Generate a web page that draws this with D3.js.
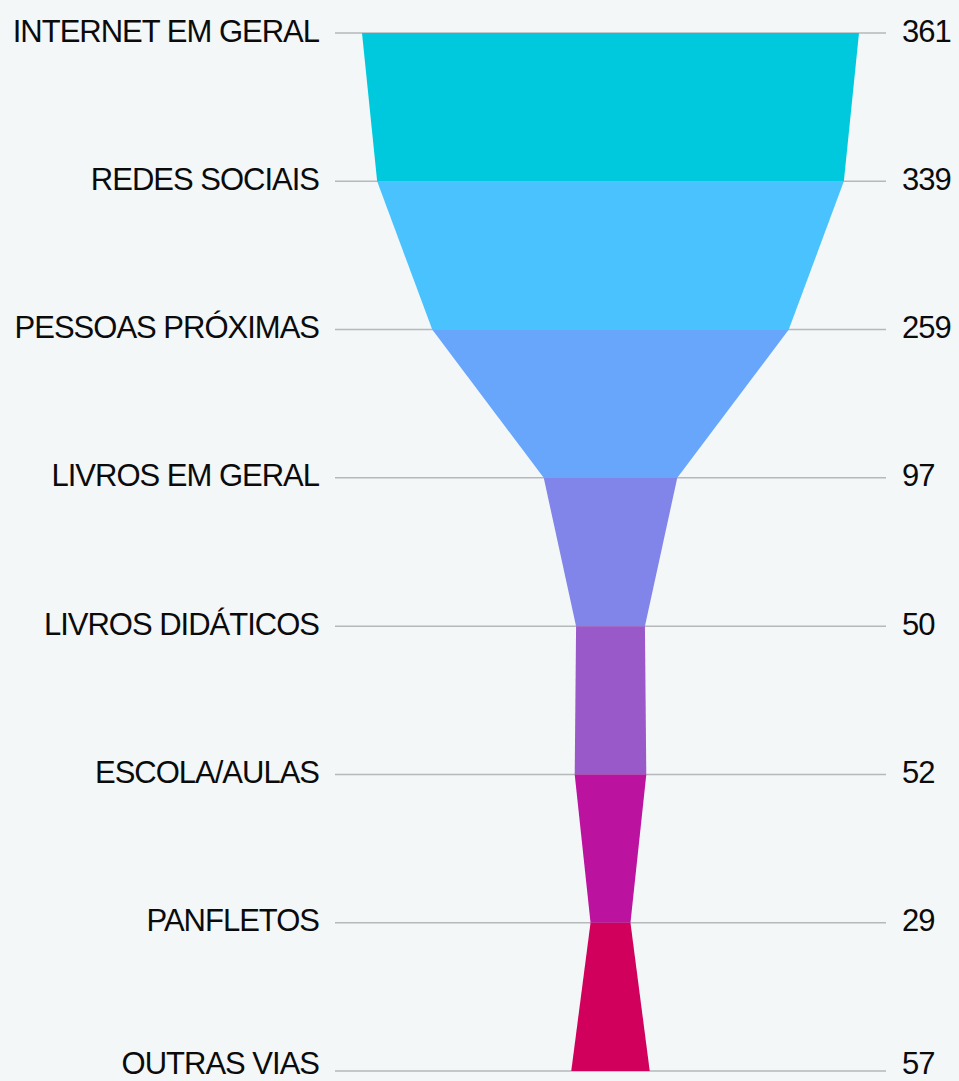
<!DOCTYPE html>
<html>
<head>
<meta charset="utf-8">
<script src="https://cdn.jsdelivr.net/npm/d3@7"></script>
<style>
  html, body { margin: 0; padding: 0; background: #f3f7f8; }
  svg { display: block; }
  .lbl { font-family: "Liberation Sans", Arial, sans-serif; font-size: 31px; letter-spacing: -1px; fill: #0b0b0b; }
</style>
</head>
<body>
<svg id="funnel" width="959" height="1081"></svg>
<script>
var categories = ["INTERNET EM GERAL", "REDES SOCIAIS", "PESSOAS PRÓXIMAS", "LIVROS EM GERAL",
                  "LIVROS DIDÁTICOS", "ESCOLA/AULAS", "PANFLETOS", "OUTRAS VIAS"];
var values = [361, 339, 259, 97, 50, 52, 29, 57];
var bandColors = ["#00c9dd", "#4ac2fe", "#67a6fa", "#8184e8", "#9a59c9", "#bb12a0", "#d0005c"];

function drawFunnel(){
  var svg = d3.select("#funnel"),
      width = +svg.attr("width"),
      height = +svg.attr("height");

  var cx = 610.5;

  // level positions, one per category
  var y = d3.scaleLinear().domain([0, categories.length - 1]).range([33, 1071]);
  // half width of the funnel for a value
  var w = d3.scaleLinear().domain([0, 361]).range([0, 248.5]);

  // grid lines under the funnel
  svg.append("g")
     .selectAll("line")
     .data(categories)
     .enter().append("line")
     .attr("x1", 335)
     .attr("x2", 886)
     .attr("y1", function(d, i){ return y(i); })
     .attr("y2", function(d, i){ return y(i); })
     .attr("stroke", "#b5b9bb")
     .attr("stroke-width", 1.5);

  // bands: trapezoid from level i to level i+1
  var bands = d3.range(categories.length - 1);
  svg.append("g")
     .selectAll("path")
     .data(bands)
     .enter().append("path")
     .attr("d", function(i){
       var a = w(values[i]), b = w(values[i + 1]);
       return "M" + (cx - a) + "," + y(i) +
              "L" + (cx + a) + "," + y(i) +
              "L" + (cx + b) + "," + y(i + 1) +
              "L" + (cx - b) + "," + y(i + 1) + "Z";
     })
     .attr("fill", function(i){ return bandColors[i]; });

  // keep the last row inside the picture
  function textY(i){ return Math.min(y(i) + 8.5, height - 7); }

  // category labels
  svg.append("g")
     .selectAll("text")
     .data(categories)
     .enter().append("text")
     .attr("class", "lbl")
     .attr("x", 319)
     .attr("y", function(d, i){ return textY(i); })
     .attr("text-anchor", "end")
     .text(function(d){ return d; });

  // values
  svg.append("g")
     .selectAll("text")
     .data(values)
     .enter().append("text")
     .attr("class", "lbl")
     .attr("x", 902)
     .attr("y", function(d, i){ return textY(i); })
     .text(function(d){ return d; });
}

drawFunnel();
</script>
</body>
</html>
